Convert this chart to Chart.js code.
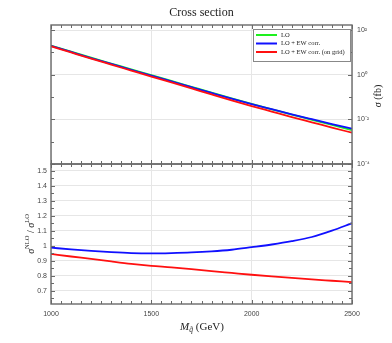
<!DOCTYPE html>
<html>
<head>
<meta charset="utf-8">
<script src="https://cdn.jsdelivr.net/npm/chart.js@4.4.1/dist/chart.umd.min.js"></script>
<style>
  html,body{margin:0;padding:0;background:#fff;}
  #wrap{position:relative;width:392px;height:343px;}
  canvas{position:absolute;left:0;top:0;}
</style>
</head>
<body>
<div id="wrap">
  <canvas id="top" width="392" height="343"></canvas>
  <canvas id="bot" width="392" height="343"></canvas>
</div>
<script>
// ---- data ----
const mass       = [1000,1100,1200,1300,1400,1500,1600,1700,1800,1900,2000,2100,2200,2300,2400,2500];
const sigmaLO    = [20.0,10.7,5.75,3.16,1.74,0.955,0.525,0.288,0.158,0.087,0.049,0.0282,0.0162,0.00955,0.00562,0.00331];
const sigmaEW    = [19.74,10.43,5.55,3.02,1.655,0.906,0.499,0.275,0.152,0.0847,0.0485,0.0284,0.01669,0.0101,0.00618,0.00381];
const sigmaGrid  = [18.9,9.93,5.24,2.83,1.53,0.827,0.449,0.243,0.131,0.0712,0.0395,0.0224,0.0127,0.0074,0.0043,0.00251];
const ratioEW    = [0.987,0.975,0.965,0.957,0.951,0.949,0.951,0.955,0.962,0.973,0.990,1.008,1.030,1.058,1.100,1.150];
const ratioGrid  = [0.945,0.928,0.912,0.895,0.879,0.866,0.856,0.844,0.830,0.818,0.806,0.795,0.785,0.775,0.766,0.757];
const seriesLabels = ['LO','LO + EW corr.','LO + EW corr. (on grid)'];
const seriesColors = ['#1ef01e','#1010ff','#ff1010'];
const xTicks     = [1000,1500,2000,2500];
const logTicks   = [1e-4,1e-2,1e0,1e2];
const logLabels  = ['10\u207B\u2074','10\u207B\u00B2','10\u2070','10\u00B2'];
const ratioTicks = [0.7,0.8,0.9,1.0,1.1,1.2,1.3,1.4,1.5];
const ratioLabels= ['0.7','0.8','0.9','1','1.1','1.2','1.3','1.4','1.5'];

const pts = (ys) => mass.map((m,i)=>({x:m,y:ys[i]}));
const TICKFONT = {family:'Liberation Sans, Arial, sans-serif', size:7};
const GRID = '#e6e6e6';
const FRAME = '#6a6a6a';

function frameAndTicks(chart, xMinor, yTickVals, yScaleId){
  const ctx = chart.ctx, a = chart.chartArea;
  const xs = chart.scales.x, ys = chart.scales[yScaleId];
  ctx.save();
  ctx.strokeStyle = FRAME; ctx.lineWidth = 1;
  // x ticks top & bottom
  for (let v = 1000; v <= 2500; v += xMinor){
    const px = Math.round(xs.getPixelForValue(v)) + 0.5;
    const L = (v % 500 === 0) ? 4 : 3;
    ctx.beginPath(); ctx.moveTo(px, a.bottom); ctx.lineTo(px, a.bottom - L); ctx.stroke();
    ctx.beginPath(); ctx.moveTo(px, a.top); ctx.lineTo(px, a.top + L); ctx.stroke();
  }
  yTickVals.forEach(t => {
    const py = Math.round(ys.getPixelForValue(t.v)) + 0.5;
    ctx.beginPath(); ctx.moveTo(a.left, py); ctx.lineTo(a.left + t.L, py); ctx.stroke();
    ctx.beginPath(); ctx.moveTo(a.right, py); ctx.lineTo(a.right - t.L, py); ctx.stroke();
  });
  ctx.lineWidth = 1.4;
  ctx.strokeRect(a.left, a.top, a.right - a.left, a.bottom - a.top);
  ctx.restore();
}

function drawRich(ctx, parts, cx, cy, rot){
  // parts: [{t, size, italic, dy}]
  ctx.save();
  ctx.translate(cx, cy);
  if (rot) ctx.rotate(rot);
  let w = 0;
  parts.forEach(p => { ctx.font = (p.italic?'italic ':'') + p.size + 'px "Liberation Serif", "DejaVu Serif", serif'; p.w = ctx.measureText(p.t).width; w += p.w; });
  let x = -w/2;
  ctx.fillStyle = '#222'; ctx.textBaseline = 'middle'; ctx.textAlign = 'left';
  parts.forEach(p => { ctx.font = (p.italic?'italic ':'') + p.size + 'px "Liberation Serif", "DejaVu Serif", serif'; ctx.fillText(p.t, x, p.dy||0); x += p.w; });
  ctx.restore();
}

const topDecor = {
  id:'topDecor',
  afterDraw(chart){
    const ctx = chart.ctx, a = chart.chartArea;
    const yt = [];
    for (let e = -4; e <= 2; e++) yt.push({v:Math.pow(10,e), L:(e%2===0)?4:3});
    frameAndTicks(chart, 50, yt, 'y');
    // title
    drawRich(ctx, [{t:'Cross section', size:12}], (a.left+a.right)/2, 13, 0);
    // right axis title
    drawRich(ctx, [{t:'\u03C3', size:10, italic:true},{t:' (fb)', size:10}], 378, 96, -Math.PI/2);
    // legend
    ctx.save();
    const bx=253, by=29, bw=97, bh=32;
    ctx.fillStyle='#fff'; ctx.fillRect(bx,by,bw,bh);
    ctx.strokeStyle='#888'; ctx.lineWidth=1; ctx.strokeRect(bx+0.5,by+0.5,bw,bh);
    const rows=[35,43.5,52];
    chart.data.datasets.forEach((ds,i)=>{
      ctx.strokeStyle = ds.borderColor; ctx.lineWidth = 2;
      ctx.beginPath(); ctx.moveTo(256, rows[i]); ctx.lineTo(277, rows[i]); ctx.stroke();
      ctx.fillStyle='#222'; ctx.font='6.5px "Liberation Serif", serif'; ctx.textBaseline='middle';
      ctx.fillText(ds.label, 281, rows[i]);
    });
    ctx.restore();
  }
};

const botDecor = {
  id:'botDecor',
  afterDraw(chart){
    const ctx = chart.ctx, a = chart.chartArea;
    const yt = [];
    for (let k = 13; k <= 30; k++) yt.push({v:k*0.05, L:(k%2===0)?4:3});
    frameAndTicks(chart, 50, yt, 'y');
    drawRich(ctx, [{t:'\u03C3', size:10, italic:true},{t:'NLO', size:6.5, dy:-4},{t:' / ', size:10},{t:'\u03C3', size:10, italic:true},{t:'LO', size:6.5, dy:-4}], 31, 234, -Math.PI/2);
    drawRich(ctx, [{t:'M', size:11, italic:true},{t:'q\u0303', size:7.5, italic:true, dy:3},{t:' (GeV)', size:11}], 202, 327, 0);
  }
};

const lineDs = (label, data, color, order) => ({
  label, data, borderColor: color, backgroundColor: color, borderWidth: 1.8,
  pointRadius: 0, tension: 0.35, cubicInterpolationMode: 'monotone', fill: false, order
});

new Chart(document.getElementById('top'), {
  type: 'line',
  data: { datasets: [
    lineDs(seriesLabels[0], pts(sigmaLO), seriesColors[0], 3),
    lineDs(seriesLabels[1], pts(sigmaEW), seriesColors[1], 2),
    lineDs(seriesLabels[2], pts(sigmaGrid), seriesColors[2], 1)
  ]},
  options: {
    responsive: false, animation: false, events: [],
    layout: { padding: { top: 25, left: 51, right: 0, bottom: 179 } },
    plugins: { legend: { display: false }, tooltip: { enabled: false }, title: { display: false } },
    scales: {
      x: { type: 'linear', min: 1000, max: 2500,
        afterBuildTicks: s => { s.ticks = xTicks.map(v => ({value: v})); },
        ticks: { display: false }, grid: { color: GRID, drawTicks: false }, border: { display: false },
        afterFit: s => { s.height = 0; } },
      y: { type: 'logarithmic', position: 'right', min: 1e-4, max: 168,
        afterBuildTicks: s => { s.ticks = logTicks.map(v => ({value: v})); },
        ticks: { font: TICKFONT, color: '#444', padding: 5, callback: (v, i) => logLabels[i] },
        grid: { color: GRID, drawTicks: false }, border: { display: false },
        afterFit: s => { s.width = 40; } }
    }
  },
  plugins: [topDecor]
});

new Chart(document.getElementById('bot'), {
  type: 'line',
  data: { datasets: [
    lineDs(seriesLabels[1], pts(ratioEW), seriesColors[1], 2),
    lineDs(seriesLabels[2], pts(ratioGrid), seriesColors[2], 1)
  ]},
  options: {
    responsive: false, animation: false, events: [],
    layout: { padding: { top: 164, left: 0, right: 40, bottom: 0 } },
    plugins: { legend: { display: false }, tooltip: { enabled: false }, title: { display: false } },
    scales: {
      x: { type: 'linear', min: 1000, max: 2500,
        afterBuildTicks: s => { s.ticks = xTicks.map(v => ({value: v})); },
        ticks: { font: TICKFONT, color: '#444', padding: 6, maxRotation: 0, callback: v => String(v) },
        grid: { color: GRID, drawTicks: false }, border: { display: false },
        afterFit: s => { s.height = 39; } },
      y: { type: 'linear', position: 'left', min: 0.611, max: 1.545,
        afterBuildTicks: s => { s.ticks = ratioTicks.map(v => ({value: v})); },
        ticks: { font: TICKFONT, color: '#444', padding: 4, callback: (v, i) => ratioLabels[i] },
        grid: { color: GRID, drawTicks: false }, border: { display: false },
        afterFit: s => { s.width = 51; } }
    }
  },
  plugins: [botDecor]
});
</script>
</body>
</html>
